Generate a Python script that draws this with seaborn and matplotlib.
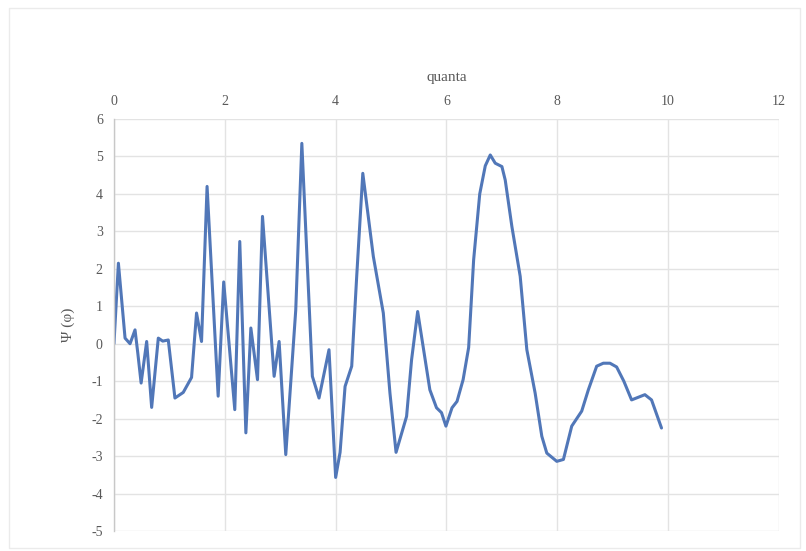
import matplotlib
matplotlib.use("Agg")
import matplotlib.pyplot as plt
import seaborn as sns
import numpy as np
import pandas as pd

# values
quanta = [0, 0.08, 0.2, 0.29, 0.38, 0.43, 0.49, 0.59, 0.68, 0.8, 0.88, 0.98,
          1.1, 1.25, 1.4, 1.49, 1.58, 1.68, 1.88, 1.98, 2.18, 2.27, 2.38, 2.47,
          2.59, 2.68, 2.89, 2.98, 3.1, 3.28, 3.39, 3.58, 3.7, 3.88, 4.0, 4.08,
          4.17, 4.29, 4.38, 4.49, 4.68, 4.86, 4.98, 5.09, 5.28, 5.37, 5.48, 5.7,
          5.82, 5.91, 5.99, 6.1, 6.19, 6.3, 6.4, 6.49, 6.6, 6.7, 6.79, 6.88,
          7.0, 7.06, 7.18, 7.33, 7.45, 7.6, 7.72, 7.81, 7.99, 8.11, 8.26, 8.44,
          8.56, 8.71, 8.83, 8.95, 9.07, 9.2, 9.34, 9.58, 9.7, 9.88]
psi = [0.0, 2.15, 0.15, 0.0, 0.37, -0.25, -1.05, 0.06, -1.7, 0.15, 0.07, 0.1,
       -1.45, -1.3, -0.9, 0.82, 0.06, 4.2, -1.4, 1.65, -1.76, 2.73, -2.38, 0.42,
       -0.96, 3.4, -0.87, 0.06, -2.96, 0.9, 5.35, -0.87, -1.45, -0.16, -3.57, -2.9,
       -1.14, -0.6, 1.8, 4.55, 2.33, 0.82, -1.32, -2.9, -1.94, -0.43, 0.86, -1.23,
       -1.71, -1.84, -2.2, -1.71, -1.54, -0.96, -0.1, 2.24, 4.0, 4.75, 5.04, 4.82,
       4.73, 4.37, 3.13, 1.8, -0.16, -1.32, -2.47, -2.92, -3.14, -3.09, -2.2, -1.8,
       -1.23, -0.6, -0.52, -0.52, -0.62, -1.0, -1.5, -1.36, -1.5, -2.25]
x_ticks = [0, 2, 4, 6, 8, 10, 12]
y_ticks = [-5, -4, -3, -2, -1, 0, 1, 2, 3, 4, 5, 6]

df = pd.DataFrame({"quanta": quanta, "psi": psi})

sns.set_style("white")
plt.rcParams["font.family"] = ["Liberation Serif", "DejaVu Serif"]
plt.rcParams["axes.unicode_minus"] = False

fig = plt.figure(figsize=(8.06, 5.51), dpi=100)
ax = fig.add_axes([0.1414, 0.0363, 0.8251, 0.7477])

sns.lineplot(data=df, x="quanta", y="psi", sort=False, color="#5177B8",
             linewidth=2.2, ax=ax)

ax.set_xlim(0, 12)
ax.set_ylim(-5, 6)
ax.set_xticks(x_ticks)
ax.set_yticks(y_ticks)
ax.xaxis.tick_top()
ax.xaxis.set_label_position("top")
ax.set_xlabel("quanta", fontsize=11, color="#595959", labelpad=10)
ax.set_ylabel("Ψ (φ)", fontsize=11, color="#595959", labelpad=12)
ax.tick_params(axis="both", length=0, labelsize=10, labelcolor="#595959", pad=8)

ax.grid(True, color="#E3E3E3", linewidth=1)
for side in ["top", "right", "bottom"]:
    ax.spines[side].set_visible(False)
ax.spines["left"].set_color("#C8C8C8")
ax.spines["left"].set_linewidth(1)

# faint chart-area frame
fig.patches.append(plt.Rectangle((0.011, 0.005), 0.982, 0.98, transform=fig.transFigure,
                                 fill=False, edgecolor="#EBEBEB", linewidth=1))

fig.savefig("out.png", dpi=100)
